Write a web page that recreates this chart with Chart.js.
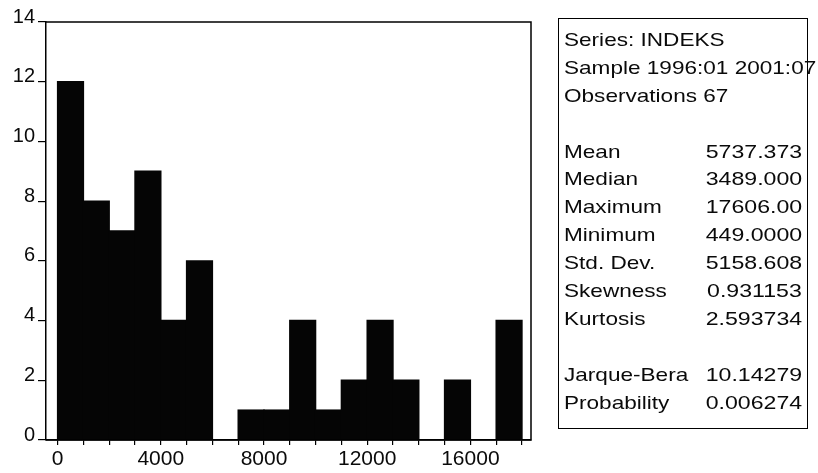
<!DOCTYPE html>
<html>
<head>
<meta charset="utf-8">
<script src="https://cdn.jsdelivr.net/npm/chart.js@4.4.1/dist/chart.umd.min.js"></script>
<style>
  html, body { margin: 0; padding: 0; background: #fff; }
  #wrap { position: relative; width: 818px; height: 473px; }
  #c { position: absolute; left: 0; top: 0; }
  #panel {
    position: absolute; left: 558px; top: 18px; width: 248px; height: 402px;
    border: 1.5px solid #000; box-sizing: content-box;
    font-family: "Liberation Sans", Arial, sans-serif; font-size: 18.5px; color: #0a0a0a;
    padding-top: 7px;
  }
  .row { position: relative; height: 27.9px; line-height: 27.9px; white-space: nowrap; }
  .lab { position: absolute; left: 5px; top: 0; transform: scaleX(1.22); transform-origin: left center; }
  .val { position: absolute; right: 5px; top: 0; transform: scaleX(1.25); transform-origin: right center; }
</style>
</head>
<body>
<div id="wrap">
  <canvas id="c" width="818" height="473"></canvas>
  <div id="panel"></div>
</div>
<script>
// Histogram bins (centre of each 1000-wide bin) and frequencies
const binCenters = [500, 1500, 2500, 3500, 4500, 5500, 6500, 7500, 8500, 9500, 10500, 11500, 12500, 13500, 14500, 15500, 16500, 17500];
const counts     = [12,  8,    7,    9,    4,    6,    0,    1,    1,    4,    1,     2,     4,     2,     0,     2,     0,     4];

// Tick values / labels
const xTickValues = [0, 1000, 2000, 3000, 4000, 5000, 6000, 7000, 8000, 9000, 10000, 11000, 12000, 13000, 14000, 15000, 16000, 17000, 18000];
const xTickLabels = ['0', '', '', '', '4000', '', '', '', '8000', '', '', '', '12000', '', '', '', '16000', '', ''];
const yTickValues = [0, 2, 4, 6, 8, 10, 12, 14];

// Statistics panel text
const headerLines = ['Series: INDEKS', 'Sample 1996:01 2001:07', 'Observations 67'];
const statNames1  = ['Mean', 'Median', 'Maximum', 'Minimum', 'Std. Dev.', 'Skewness', 'Kurtosis'];
const statValues1 = ['5737.373', '3489.000', '17606.00', '449.0000', '5158.608', '0.931153', '2.593734'];
const statNames2  = ['Jarque-Bera', 'Probability'];
const statValues2 = ['10.14279', '0.006274'];

// Build panel
const panel = document.getElementById('panel');
function addRow(label, value) {
  const r = document.createElement('div'); r.className = 'row';
  if (label) { const l = document.createElement('span'); l.className = 'lab'; l.textContent = label; r.appendChild(l); }
  if (value) { const v = document.createElement('span'); v.className = 'val'; v.textContent = value; r.appendChild(v); }
  panel.appendChild(r);
}
headerLines.forEach(h => addRow(h, ''));
addRow('', '');
statNames1.forEach((n, i) => addRow(n, statValues1[i]));
addRow('', '');
statNames2.forEach((n, i) => addRow(n, statValues2[i]));

const frame = {
  id: 'frame',
  afterDatasetsDraw(chart) {
    const { ctx, chartArea: a } = chart;
    ctx.save();
    ctx.strokeStyle = '#000';
    ctx.lineWidth = 1.5;
    ctx.beginPath();
    ctx.moveTo(a.left, a.top);
    ctx.lineTo(a.right, a.top);
    ctx.lineTo(a.right, a.bottom);
    ctx.lineTo(a.left, a.bottom);
    ctx.stroke();
    ctx.restore();
  }
};

const fam = '"Liberation Sans", Arial, sans-serif';

new Chart(document.getElementById('c'), {
  type: 'bar',
  data: {
    datasets: [{
      data: binCenters.map((x, i) => ({ x: x, y: counts[i] })),
      backgroundColor: '#050505',
      borderWidth: 0,
      inflateAmount: 0.7,
      barPercentage: 1.0,
      categoryPercentage: 1.0,
      grouped: false
    }]
  },
  options: {
    responsive: false,
    animation: false,
    layout: { padding: { left: 0, top: 22, right: 287, bottom: 0 } },
    plugins: { legend: { display: false }, tooltip: { enabled: false } },
    scales: {
      x: {
        type: 'linear',
        min: -450, max: 18350,
        offset: false,
        afterBuildTicks(s) { s.ticks = xTickValues.map(v => ({ value: v })); },
        afterFit(s) { s.height = 33; },
        ticks: {
          autoSkip: false, maxRotation: 0, minRotation: 0,
          color: '#0a0a0a', font: { family: fam, size: 21 }, padding: 2,
          callback: (v, i) => xTickLabels[i]
        },
        grid: { offset: false, drawOnChartArea: false, drawTicks: true, tickLength: 5, color: '#000', lineWidth: 1.2 },
        border: { display: true, color: '#000', width: 1.5 }
      },
      y: {
        min: 0, max: 14,
        afterBuildTicks(s) { s.ticks = yTickValues.map(v => ({ value: v })); },
        afterFit(s) { s.width = 46; },
        ticks: { color: '#0a0a0a', font: { family: fam, size: 20 }, padding: 3, labelOffset: -5 },
        grid: { drawOnChartArea: false, drawTicks: true, tickLength: 8, color: '#000', lineWidth: 1.2 },
        border: { display: true, color: '#000', width: 1.5 }
      }
    }
  },
  plugins: [frame]
});
</script>
</body>
</html>
